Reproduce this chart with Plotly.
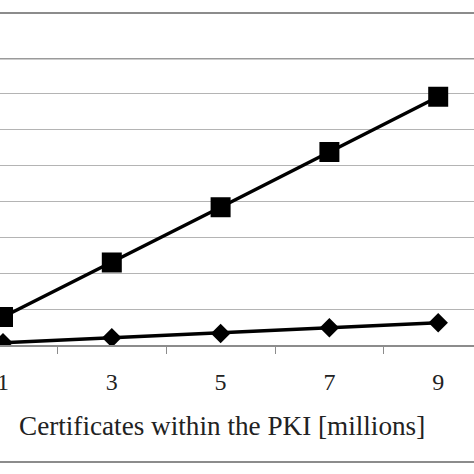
import plotly.graph_objects as go

# ── Data ──────────────────────────────────────────────────────────────────────

certificates = [1, 3, 5, 7, 9]          # millions
series_square = [3.9, 11.5, 19.2, 26.9, 34.6]
series_diamond = [0.3, 1.0, 1.6, 2.4, 3.1]
tick_labels = ["1", "3", "5", "7", "9"]

SERIF = "Liberation Serif, Times New Roman, serif"
GRID = "#b4b4b4"

fig = go.Figure()

fig.add_trace(go.Scatter(
    x=certificates, y=series_square,
    mode="lines+markers",
    line=dict(color="black", width=3.5),
    marker=dict(symbol="square", size=20, color="black"),
    showlegend=False,
))
fig.add_trace(go.Scatter(
    x=certificates, y=series_diamond,
    mode="lines+markers",
    line=dict(color="black", width=3.5),
    marker=dict(symbol="diamond", size=15, color="black"),
    showlegend=False,
))

# thick top border of the plot area
fig.add_shape(type="line", xref="paper", x0=0, x1=1, yref="y", y0=40, y1=40,
              line=dict(color="#9a9a9a", width=3))
# outer chart frame (top and bottom edges)
fig.add_shape(type="line", xref="paper", x0=0, x1=1, yref="paper", y0=1.157, y1=1.157,
              line=dict(color="#666666", width=1.5))
fig.add_shape(type="line", xref="paper", x0=0, x1=1, yref="paper", y0=-0.408, y1=-0.408,
              line=dict(color="#666666", width=1.5))

fig.add_annotation(
    text="Certificates within the PKI [millions]",
    xref="paper", yref="paper", x=0.468, y=-0.282,
    xanchor="center", yanchor="middle", showarrow=False,
    font=dict(family=SERIF, size=27.2, color="#222222"),
)

fig.update_layout(
    width=474, height=474,
    margin=dict(l=0, r=0, t=58, b=129, autoexpand=False),
    paper_bgcolor="white",
    plot_bgcolor="white",
    xaxis=dict(
        range=[0.945, 9.658],
        tickmode="array", tickvals=certificates, ticktext=tick_labels,
        ticks="", showgrid=False, zeroline=False,
        showline=True, linecolor="#8c8c8c", linewidth=1.5,
        tickfont=dict(family=SERIF, size=24, color="#222222"),
        ticklabelstandoff=14, ticklabeloverflow="allow",
        automargin=False,
        minor=dict(tickvals=[2, 4, 6, 8], ticks="outside", ticklen=7,
                   tickcolor="#8c8c8c", tickwidth=1, showgrid=False),
    ),
    yaxis=dict(
        range=[0, 40], dtick=5,
        showticklabels=False, ticks="",
        showgrid=True, gridcolor=GRID, gridwidth=1.2,
        zeroline=False, showline=False, automargin=False,
    ),
)

fig.write_html("out.html", config={"displayModeBar": False},
               post_script="document.body.style.margin='0';")
